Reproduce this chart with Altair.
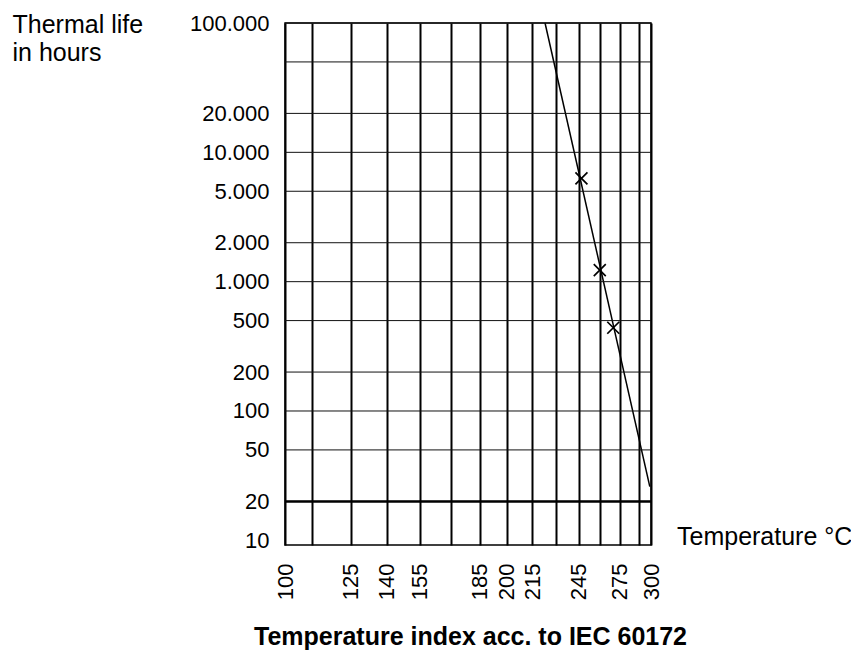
import altair as alt
import pandas as pd

# ---- data ----
line_temps = [223, 299]            # Arrhenius line end points (degC)
line_hours = [100000, 26]          # thermal life at those points (h)
test_temps = [247, 260, 270]       # measured points (degC)
test_hours = [6300, 1230, 440]     # measured thermal life (h)
end_point_hours = [20]             # bold reference line (h)
grid_temps = [100, 110, 125, 140, 155, 170, 185, 200, 215, 230, 245, 260, 275, 290, 300]
label_temps = [100, 125, 140, 155, 185, 200, 215, 245, 275, 300]
grid_hours = [20, 50, 100, 200, 500, 1000, 2000, 5000, 10000, 20000, 50000, 100000]
label_hours = [10, 20, 50, 100, 200, 500, 1000, 2000, 5000, 10000, 20000, 100000]

FONT = "Liberation Sans"
W, H = 366, 522


def inv(t):
    return -1000.0 / (t + 273.0)


CALC = "-1000/(datum.temp + 273)"

label_list = ",".join(str(t) for t in label_temps)
x_label_expr = (
    f"indexof([{label_list}], round(-1000/datum.value - 273)) >= 0 ? "
    "format(round(-1000/datum.value - 273), 'd') : ''"
)

x_scale = alt.Scale(domain=[inv(100), inv(300)], nice=False, zero=False)
x_axis = alt.Axis(
    values=[inv(t) for t in grid_temps],
    labelExpr=x_label_expr,
    labelAngle=-90,
    labelFont=FONT,
    labelFontSize=22,
    labelColor="black",
    labelPadding=18,
    labelOverlap=False,
    labelFlush=False,
    labelBound=False,
    ticks=False,
    domain=False,
    grid=True,
    gridColor="black",
    gridWidth=2,
    gridOpacity=1,
    title="Temperature index acc. to IEC 60172",
    titleFont=FONT,
    titleFontSize=25,
    titleFontWeight="bold",
    titleColor="black",
    titleX=185,
    titleY=99,
    titleAlign="center",
    titleBaseline="alphabetic",
)

y_scale = alt.Scale(type="log", domain=[9.2, 100000], nice=False)
y_axis = alt.Axis(
    values=label_hours,
    labelExpr="replace(format(datum.value, ',d'), ',', '.')",
    labelFont=FONT,
    labelFontSize=22,
    labelColor="black",
    labelPadding=16,
    labelOverlap=False,
    labelFlush=False,
    labelBound=False,
    ticks=False,
    domain=False,
    grid=False,
    title=["Thermal life", "in hours"],
    titleFont=FONT,
    titleFontSize=25,
    titleFontWeight="normal",
    titleColor="black",
    titleAngle=0,
    titleAlign="left",
    titleBaseline="alphabetic",
    titleX=-273,
    titleY=9,
    titleLineHeight=28,
)


def X():
    return alt.X("inv_t:Q", scale=x_scale, axis=x_axis)


def Y():
    return alt.Y("hours:Q", scale=y_scale, axis=y_axis)


line_df = pd.DataFrame({"temp": line_temps, "hours": line_hours})
test_df = pd.DataFrame({"temp": test_temps, "hours": test_hours})
grid_df = pd.DataFrame({"hours": grid_hours})
end_df = pd.DataFrame({"hours": end_point_hours})
text_df = pd.DataFrame({"label": ["Temperature °C"]})

base_line = (
    alt.Chart(line_df)
    .transform_calculate(inv_t=CALC)
    .mark_line(color="black", strokeWidth=1.5)
    .encode(x=X(), y=Y(), order="temp:Q")
)

h_grid = alt.Chart(grid_df).mark_rule(color="#111", strokeWidth=1).encode(y=Y())

end_rule = alt.Chart(end_df).mark_rule(color="black", strokeWidth=2.5).encode(y=Y())

points = (
    alt.Chart(test_df)
    .transform_calculate(inv_t=CALC)
    .mark_point(
        shape="M-1,-1L1,1M-1,1L1,-1",
        filled=False,
        size=144,
        strokeWidth=1.7,
        color="black",
        opacity=1,
    )
    .encode(x=X(), y=Y())
)

temp_text = (
    alt.Chart(text_df)
    .mark_text(
        align="left",
        baseline="alphabetic",
        font=FONT,
        fontSize=25,
        color="black",
    )
    .encode(x=alt.value(W + 26), y=alt.value(H), text="label:N")
)

chart = (
    alt.layer(base_line, h_grid, end_rule, points, temp_text)
    .properties(
        width=W,
        height=H,
        autosize=alt.AutoSizeParams(type="none"),
        padding={"left": 277, "top": 15, "right": 200, "bottom": 105},
        background="white",
    )
    .configure_view(stroke="black", strokeWidth=1.5)
)

chart.save("out.html", embed_options={"renderer": "svg", "actions": False})
